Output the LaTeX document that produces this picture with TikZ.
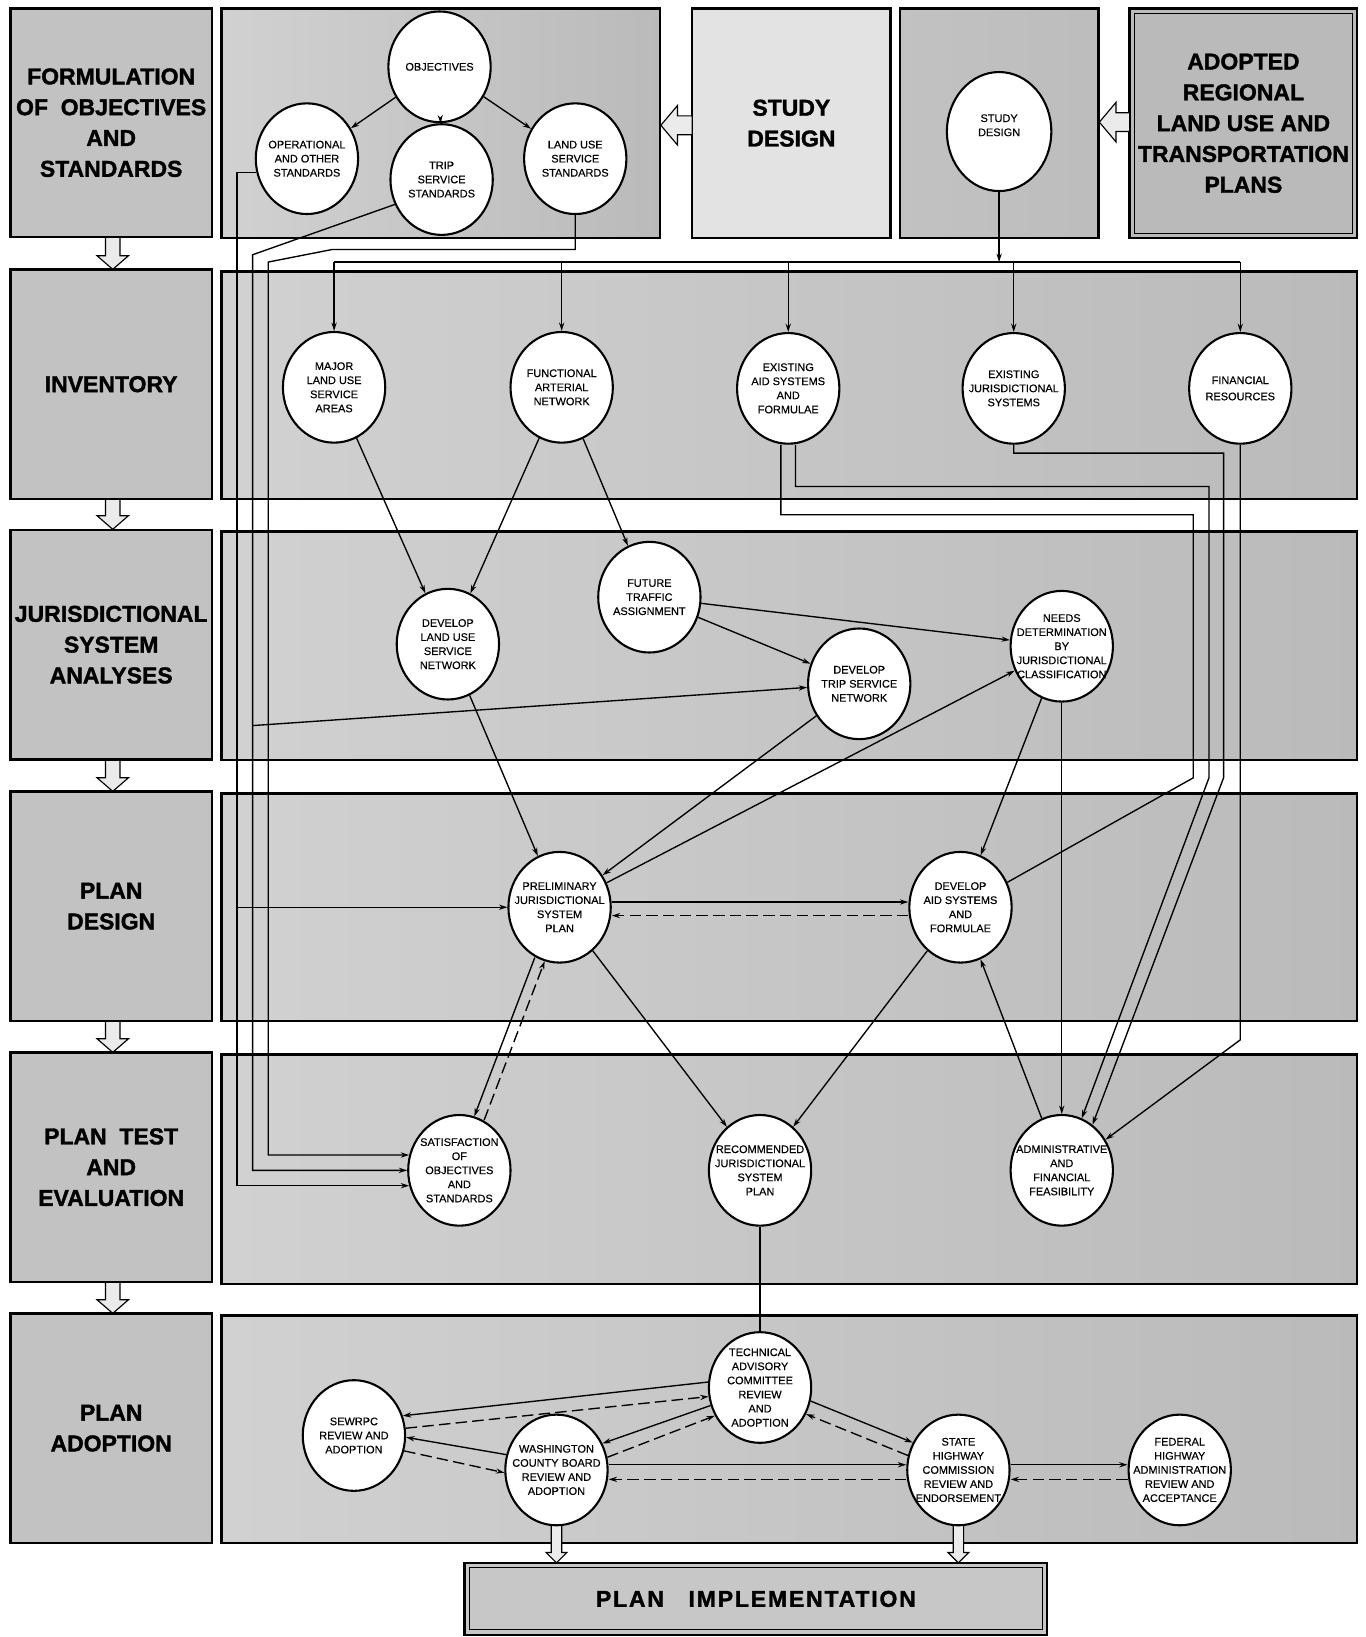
\documentclass[tikz,border=0pt]{standalone}
\usepackage{fontspec}
\setmainfont{Liberation Sans}
\usetikzlibrary{shapes.geometric,arrows.meta,calc}
\newcommand{\myhead}{\fontsize{22}{29.5}\selectfont\bfseries\addfontfeature{FakeBold=1.5}}
\newcommand{\mycirc}{\fontsize{10.5}{13.5}\selectfont\addfontfeature{FakeBold=0.4}}
% hollow down arrow: x, ytop, ybot, half shaft, half head, head length
\newcommand{\hdown}[6]{\filldraw[hollow] (#1-#4,#2) -- (#1-#4,#3-#6) -- (#1-#5,#3-#6) -- (#1,#3) -- (#1+#5,#3-#6) -- (#1+#4,#3-#6) -- (#1+#4,#2) -- cycle;}
% hollow left arrow: xtip, y, xtail, half shaft, half head, head length
\newcommand{\hleft}[6]{\filldraw[hollow] (#3,#2-#4) -- (#1+#6,#2-#4) -- (#1+#6,#2-#5) -- (#1,#2) -- (#1+#6,#2+#5) -- (#1+#6,#2+#4) -- (#3,#2+#4) -- cycle;}
\begin{document}
\begin{tikzpicture}[x=1pt,y=-1pt,
  lbox/.style={draw, line width=2.4pt, fill=black!24, align=center, font=\myhead, inner sep=0pt},
  panel/.style={draw, line width=2.4pt, left color=black!18, middle color=black!9, right color=black!27},
  circ/.style={ellipse, draw, line width=2pt, fill=white, minimum width=98pt, minimum height=106pt, inner sep=0pt},
  ctext/.style={align=center, font=\mycirc, inner sep=0pt},
  conn/.style={line width=1.3pt},
  arr/.style={conn, -{Stealth[length=8pt,width=5pt]}},
  darr/.style={arr, dash pattern=on 11pt off 5pt},
  hollow/.style={draw, line width=1.1pt, fill=black!8},
]
\useasboundingbox (0,0) rectangle (1308,1568);

% ---------- left heading boxes ----------
\hdown{108}{225}{258}{7}{15}{13}
\hdown{108}{476}{507}{7}{15}{13}
\hdown{108}{726}{758}{7}{15}{13}
\hdown{108}{976}{1008}{7}{15}{13}
\hdown{108}{1226}{1258}{7}{15}{13}
\node[lbox, minimum width=193pt, minimum height=219pt] (h1) at (106.5,117.5) {FORMULATION\\OF\ \ OBJECTIVES\\AND\\STANDARDS};
\node[lbox, minimum width=193pt, minimum height=220pt] (h2) at (106.5,368) {INVENTORY};
\node[lbox, minimum width=193pt, minimum height=220pt] (h3) at (106.5,617.5) {JURISDICTIONAL\\SYSTEM\\ANALYSES};
\node[lbox, minimum width=193pt, minimum height=220pt] (h4) at (106.5,868) {PLAN\\DESIGN};
\node[lbox, minimum width=193pt, minimum height=220pt] (h5) at (106.5,1118) {PLAN\ \ TEST\\AND\\EVALUATION};
\node[lbox, minimum width=193pt, minimum height=220pt] (h6) at (106.5,1368) {PLAN\\ADOPTION};

% ---------- top row ----------
\draw[panel] (212,8) rectangle (632,228);
\node[lbox, fill=black!11, minimum width=190pt, minimum height=220pt] (sdbox) at (758,118) {STUDY\\DESIGN};
\draw[panel, left color=black!24, middle color=black!16, right color=black!26] (862,8) rectangle (1052,228);
\node[lbox, fill=black!27, minimum width=218pt, minimum height=220pt] (adopt) at (1191,118) {ADOPTED\\REGIONAL\\LAND USE AND\\TRANSPORTATION\\PLANS};
\draw[line width=0.9pt] ($(adopt.south west)+(6,-6)$) rectangle ($(adopt.north east)+(-6,6)$);
\hleft{633}{120}{663}{9}{19}{16}
\hleft{1053}{117}{1082}{9}{19}{16}

% ---------- row panels ----------
\draw[panel] (212,260) rectangle (1300,478);
\draw[panel] (212,509) rectangle (1300,728);
\draw[panel] (212,760) rectangle (1300,978);
\draw[panel] (212,1010) rectangle (1300,1230);
\draw[panel] (212,1260) rectangle (1300,1478);

% ---------- plan implementation ----------
\hdown{533}{1455}{1497}{5}{10}{10}
\hdown{918}{1455}{1497}{5}{10}{10}
\node[lbox, fill=black!22, minimum width=558pt, minimum height=69pt] (impl) at (724,1531.5) {\addfontfeature{LetterSpace=8}PLAN\ \ \ IMPLEMENTATION};
\draw[line width=0.9pt] ($(impl.south west)+(6,-6)$) rectangle ($(impl.north east)+(-6,6)$);

% ---------- circles ----------
\node[circ, label={[ctext]center:OBJECTIVES}] (obj) at (421,64) {};
\node[circ, label={[ctext]center:{OPERATIONAL\\AND OTHER\\STANDARDS}}] (oper) at (294,152) {};
\node[circ, label={[ctext]center:{TRIP\\SERVICE\\STANDARDS}}] (trip) at (423,172) {};
\node[circ, label={[ctext]center:{LAND USE\\SERVICE\\STANDARDS}}] (lstd) at (551,152) {};
\node[circ, minimum width=100pt, minimum height=114pt, label={[ctext,yshift=6pt]center:{STUDY\\DESIGN}}] (sd) at (957,126) {};

\node[circ, label={[ctext]center:{MAJOR\\LAND USE\\SERVICE\\AREAS}}] (major) at (320,371) {};
\node[circ, label={[ctext]center:{FUNCTIONAL\\ARTERIAL\\NETWORK}}] (func) at (538,371) {};
\node[circ, label={[ctext]center:{EXISTING\\AID SYSTEMS\\AND\\FORMULAE}}] (eaid) at (755,372) {};
\node[circ, label={[ctext]center:{EXISTING\\JURISDICTIONAL\\SYSTEMS}}] (ejur) at (971,372) {};
\node[circ, label={[ctext]center:{FINANCIAL\\[2pt]RESOURCES}}] (fin) at (1188,372) {};

\node[circ, label={[ctext]center:{FUTURE\\TRAFFIC\\ASSIGNMENT}}] (fut) at (622,572) {};
\node[circ, label={[ctext]center:{DEVELOP\\LAND USE\\SERVICE\\NETWORK}}] (dland) at (429,617) {};
\node[circ, label={[ctext]center:{NEEDS\\DETERMINATION\\BY\\JURISDICTIONAL\\CLASSIFICATION}}] (needs) at (1017,619) {};
\node[circ, label={[ctext]center:{DEVELOP\\TRIP SERVICE\\NETWORK}}] (dtrip) at (823,655) {};

\node[circ, label={[ctext]center:{PRELIMINARY\\JURISDICTIONAL\\SYSTEM\\PLAN}}] (prelim) at (536,869) {};
\node[circ, label={[ctext]center:{DEVELOP\\AID SYSTEMS\\AND\\FORMULAE}}] (daid) at (920,869) {};

\node[circ, label={[ctext]center:{SATISFACTION\\OF\\OBJECTIVES\\AND\\STANDARDS}}] (sat) at (440,1121) {};
\node[circ, label={[ctext]center:{RECOMMENDED\\JURISDICTIONAL\\SYSTEM\\PLAN}}] (rec) at (728,1121) {};
\node[circ, label={[ctext]center:{ADMINISTRATIVE\\AND\\FINANCIAL\\FEASIBILITY}}] (adm) at (1017,1121) {};

\node[circ, label={[ctext]center:{TECHNICAL\\ADVISORY\\COMMITTEE\\REVIEW\\AND\\ADOPTION}}] (tech) at (728,1329) {};
\node[circ, label={[ctext]center:{SEWRPC\\REVIEW AND\\ADOPTION}}] (sew) at (339,1375) {};
\node[circ, label={[ctext]center:{WASHINGTON\\COUNTY BOARD\\REVIEW AND\\ADOPTION}}] (wash) at (533,1408) {};
\node[circ, label={[ctext]center:{STATE\\HIGHWAY\\COMMISSION\\REVIEW AND\\ENDORSEMENT}}] (state) at (918,1408) {};
\node[circ, label={[ctext]center:{FEDERAL\\HIGHWAY\\ADMINISTRATION\\REVIEW AND\\ACCEPTANCE}}] (fed) at (1130,1408) {};

% ---------- helper coordinates ----------
\coordinate (L1) at (227,0);
\coordinate (L2) at (242,0);
\coordinate (L3) at (257,0);
\coordinate (t1) at (242,244);
\coordinate (lh) at (318,239);
\coordinate (l2) at (257,251);
\coordinate (B) at (0,251);
\coordinate (tb) at (242,695);
\coordinate (a1) at (1158,466);
\coordinate (a1k) at (1158,745);
\coordinate (a2) at (1143,493);
\coordinate (a2k) at (1143,745);
\coordinate (j1) at (1172,434);
\coordinate (j1k) at (1172,745);
\coordinate (f1) at (1188,996);

% ---------- row 1 ----------
\draw[arr] (obj) -- (oper);
\draw[arr] (obj) -- (trip);
\draw[arr] (obj) -- (lstd);
\draw[arr] (oper.195) -- (oper.195 -| L1) -- (sat.197 -| L1) -- (sat.197);
\draw[arr] (trip.208) -- (t1) -- (sat.west -| L2) -- (sat.west);
\draw[arr] (lstd.south) -- (lstd.south |- lh) -- (lh) -- (l2) -- (sat.163 -| L3) -- (sat.163);
\draw[arr] (L1 |- prelim.west) -- (prelim.west);
\draw[arr] (tb) -- (dtrip);

% ---------- study design bus ----------
\draw[arr] (sd.south) -- (sd.south |- B);
\draw[conn] (major.north |- B) -- (fin.north |- B);
\foreach \n in {major,func,eaid,ejur,fin} \draw[arr] (\n.north |- B) -- (\n.north);

% ---------- inventory outputs ----------
\draw[arr] (major) -- (dland);
\draw[arr] (func) -- (dland);
\draw[arr] (func) -- (fut);
\draw[conn] ([xshift=-7pt]eaid.south) |- (a2) -- (a2k) -- (daid.28);
\draw[arr] ([xshift=7pt]eaid.south) |- (a1) -- (a1k) -- (adm.69);
\draw[arr] (ejur.south) |- (j1) -- (j1k) -- (adm.56);
\draw[arr] (fin.south) -- (fin.south |- f1) -- (adm.35);

% ---------- analyses ----------
\draw[arr] (fut) -- (needs);
\draw[arr] (fut) -- (dtrip);
\draw[arr] (dland) -- (prelim);
\draw[arr] (dtrip) -- (prelim);
\draw[arr] (prelim) -- (needs);
\draw[arr] (needs) -- (daid);
\draw[arr] (needs.south) -- (adm.north);

% ---------- plan design ----------
\draw[arr] ([yshift=5pt]prelim.east) -- ([yshift=5pt]daid.west);
\draw[darr] ([yshift=-8pt]daid.west) -- ([yshift=-8pt]prelim.east);
\draw[arr, transform canvas={shift={(-4.7,-1.8)}}] (prelim) -- (sat);
\draw[darr, transform canvas={shift={(4.7,1.8)}}] (sat) -- (prelim);
\draw[arr] (prelim) -- (rec);
\draw[arr] (daid) -- (rec);
\draw[arr] (adm) -- (daid);

% ---------- adoption ----------
\draw[conn] (rec.south) -- (tech.north);
\draw[arr] (tech.174) -- (sew.22);
\draw[darr] (sew.8) -- (tech.190);
\draw[arr] (tech.200) -- (wash.30);
\draw[darr] (wash.14) -- (tech.212);
\draw[arr] (wash.163) -- (sew.358);
\draw[darr] (sew.343) -- (wash.183);
\draw[arr] (tech.345) -- (state.149);
\draw[darr] (state.164) -- (tech.330);
\draw[arr] ([yshift=5pt]wash.east) -- ([yshift=5pt]state.west);
\draw[darr] ([yshift=-9pt]state.west) -- ([yshift=-9pt]wash.east);
\draw[arr] ([yshift=5pt]state.east) -- ([yshift=5pt]fed.west);
\draw[darr] ([yshift=-9pt]fed.west) -- ([yshift=-9pt]state.east);
\end{tikzpicture}
\end{document}
